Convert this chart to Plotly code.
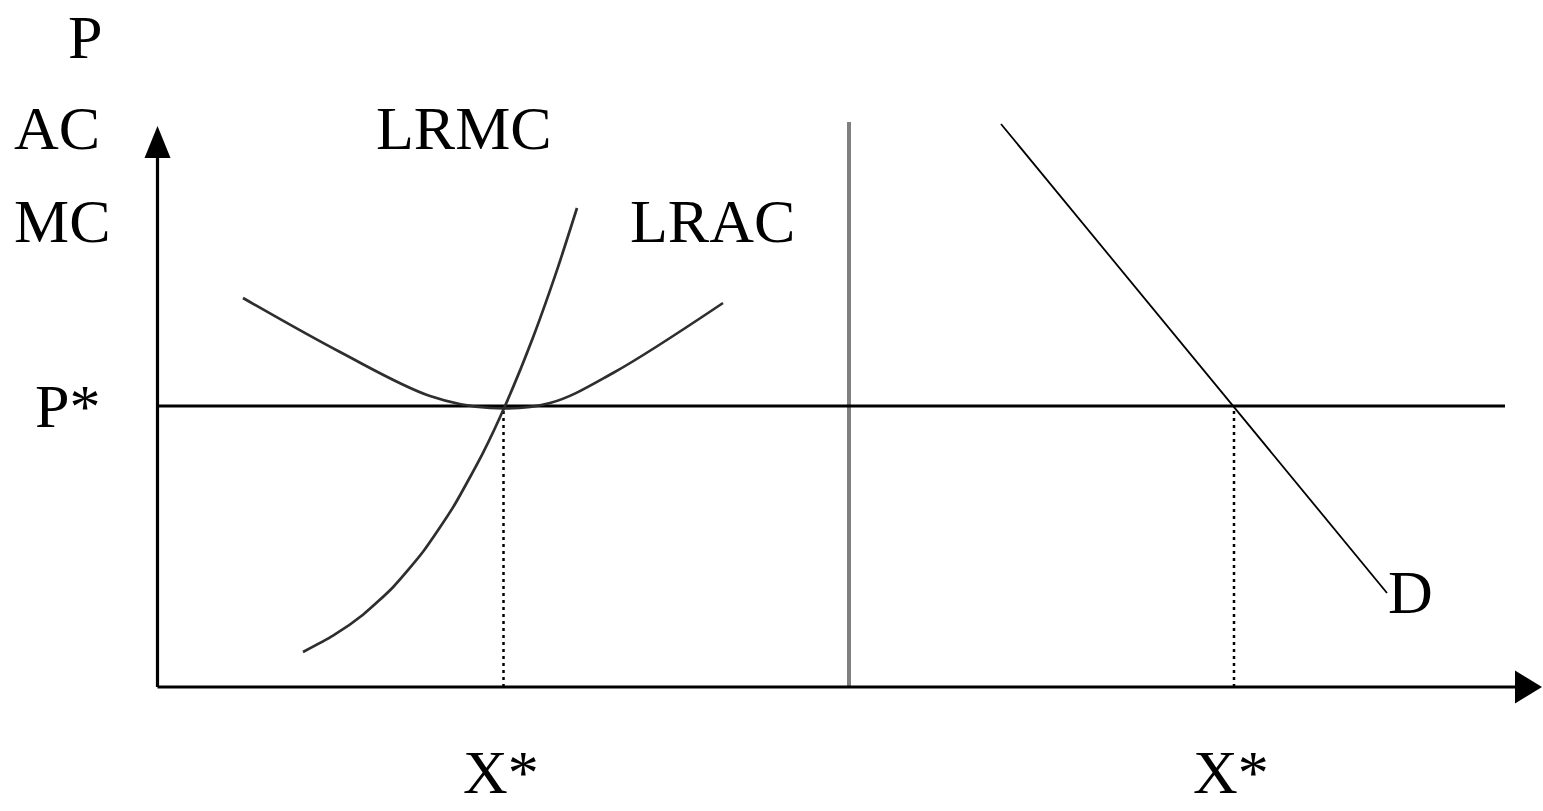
import plotly.graph_objects as go

# ---- data (economic units: quantity Q, price P) ----
Q_LRMC = [14.55, 17.55, 20.55, 23.55, 26.55, 29.55, 32.55, 34.75, 37.55, 40.05, 41.95]
P_LRMC = [3.5, 5.13, 7.23, 9.98, 13.52, 17.96, 23.42, 28.1, 34.96, 41.99, 47.9]

Q_LRAC = [8.55, 18.25, 27.25, 33.25, 39.25, 45.55, 56.55]
P_LRAC = [38.9, 33.5, 29.1, 27.9, 28.4, 31.4, 38.4]

Q_D = [84.35, 122.95]
P_D = [56.3, 9.4]

P_STAR = 28.1
X_STAR_FIRM = 34.6
X_STAR_MKT = 107.65
DIVIDER_Q = 69.15
DIVIDER_TOP = 56.5
Y_AXIS_TOP = 56.1
X_AXIS_END = 138.45
P_LINE_END = 134.75

LABELS = ["P", "AC", "MC", "LRMC", "LRAC", "P*", "D", "X*", "X*"]
LABEL_Q = [-7.25, -10.05, -9.55, 30.65, 55.45, -9.0, 125.25, 34.35, 107.35]
LABEL_P = [65.0, 55.9, 46.6, 55.9, 46.6, 28.1, 9.5, -8.5, -8.5]

# ---- styling ----
FONT = dict(family="Liberation Serif, Times New Roman, serif", size=62, color="black")
HEAD_LEN_Y, HEAD_HALF_Y = 3.2, 1.3
HEAD_LEN_X, HEAD_HALF_X = 2.7, 1.65

fig = go.Figure()

def line(x, y, color="black", width=3, dash="solid", shape="linear", smoothing=1.0):
    fig.add_trace(go.Scatter(x=x, y=y, mode="lines", hoverinfo="skip",
                             line=dict(color=color, width=width, dash=dash,
                                       shape=shape, smoothing=smoothing),
                             showlegend=False))

# divider (gray)
line([DIVIDER_Q, DIVIDER_Q], [0, DIVIDER_TOP], color="#808080", width=4)
# P* line
line([0, P_LINE_END], [P_STAR, P_STAR], width=3)
# dotted drop lines
line([X_STAR_FIRM, X_STAR_FIRM], [0, P_STAR], width=2.5, dash="3px,4px")
line([X_STAR_MKT, X_STAR_MKT], [0, P_STAR], width=2.5, dash="3px,4px")
# curves
line(Q_LRAC, P_LRAC, color="#2e2e2e", width=2.7, shape="spline", smoothing=1.0)
line(Q_LRMC, P_LRMC, color="#2e2e2e", width=2.7, shape="spline", smoothing=0.6)
line(Q_D, P_D, color="black", width=1.8)
# axes
line([0, 0], [0, Y_AXIS_TOP - HEAD_LEN_Y + 0.3], width=3.2)
line([0, X_AXIS_END - HEAD_LEN_X + 0.3], [0, 0], width=3.2)

# arrowheads
fig.add_shape(type="path", xref="x", yref="y", fillcolor="black", line=dict(width=0),
              path=f"M 0 {Y_AXIS_TOP} L {-HEAD_HALF_Y} {Y_AXIS_TOP - HEAD_LEN_Y} "
                   f"L {HEAD_HALF_Y} {Y_AXIS_TOP - HEAD_LEN_Y} Z")
fig.add_shape(type="path", xref="x", yref="y", fillcolor="black", line=dict(width=0),
              path=f"M {X_AXIS_END} 0 L {X_AXIS_END - HEAD_LEN_X} {HEAD_HALF_X} "
                   f"L {X_AXIS_END - HEAD_LEN_X} {-HEAD_HALF_X} Z")

for t, q, p in zip(LABELS, LABEL_Q, LABEL_P):
    fig.add_annotation(x=q, y=p, text=t, showarrow=False, font=FONT,
                       xanchor="center", yanchor="middle")

fig.update_layout(
    width=1543, height=811,
    margin=dict(l=0, r=0, t=0, b=0),
    paper_bgcolor="white", plot_bgcolor="white",
    xaxis=dict(range=[-15.75, 138.55], visible=False, fixedrange=True),
    yaxis=dict(range=[-12.4, 68.7], visible=False, fixedrange=True),
    showlegend=False,
)

fig.write_html("out.html", config=dict(displayModeBar=False),
               post_script="document.body.style.margin='0';document.body.style.overflow='hidden';")
